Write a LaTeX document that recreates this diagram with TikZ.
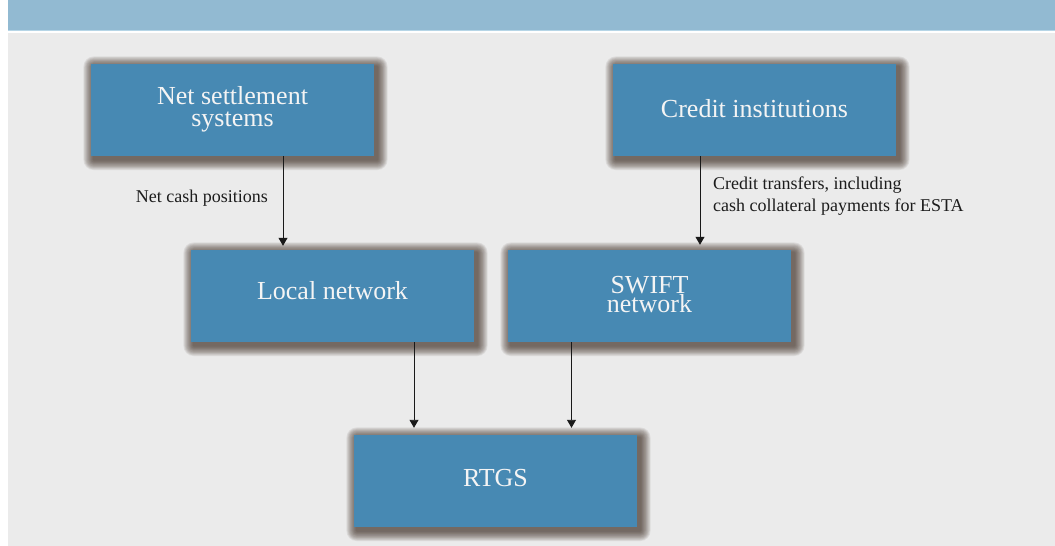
\documentclass[tikz,border=0pt]{standalone}
\usepackage{fontspec}
\setmainfont{Liberation Serif}
\usetikzlibrary{arrows.meta,backgrounds,calc}
\definecolor{bannerc}{HTML}{92BAD2}
\definecolor{bannerline}{HTML}{B6D5E6}
\definecolor{pagec}{HTML}{EBEBEB}
\definecolor{boxc}{HTML}{4789B3}
\definecolor{boxtext}{HTML}{F4F4F4}
\definecolor{shc}{HTML}{3A2A20}
\definecolor{labc}{HTML}{1C1C1C}
\tikzset{
  flowbox/.style={fill=boxc, text=boxtext, minimum width=283bp, minimum height=92bp,
    inner sep=0pt, align=center, font=\fontsize{26bp}{21.7bp}\selectfont},
  arr/.style={draw=black!90, line width=0.9bp, -{Triangle[width=9bp,length=8bp]}},
  lab/.style={text=labc, inner sep=0pt, font=\fontsize{18bp}{22.4bp}\selectfont}
}
\newcommand{\myshadow}[1]{%
  \foreach \k in {1,...,13}{%
    \fill[shc, opacity=0.08, rounded corners=0.8*\k bp]
      ([shift={(-0.8*\k+3,-0.8*\k+3)}]#1.north west) rectangle ([shift={(0.8*\k+3,0.8*\k+3.5)}]#1.south east);
  }%
}
\begin{document}
\begin{tikzpicture}[x=1bp,y=-1bp]
\useasboundingbox (0,0) rectangle (1055,546);
% boxes
\node[flowbox, text height=36bp, text depth=2.6bp] (net) at (232.5,110) {Net settlement\\systems};
\node[flowbox, text height=18bp, text depth=2bp] (credit) at (754.5,110) {Credit institutions};
\node[flowbox, text height=18bp, text depth=11.4bp] (local) at (332.5,296) {Local network};
\node[flowbox, font=\fontsize{26bp}{19.5bp}\selectfont, text height=36bp, text depth=2.6bp] (swift) at (649.5,296) {SWIFT\\network};
\node[flowbox, text height=18bp, text depth=8bp] (rtgs) at (495.5,481) {RTGS};
% background and shadows
\begin{scope}[on background layer]
  \fill[white] (0,0) rectangle (1055,546);
  \fill[bannerc] (7.5,0) rectangle (1055,30);
  \fill[bannerline] (7.5,30) rectangle (1055,31.3);
  \fill[pagec] (8,33) rectangle (1055,546);
  \myshadow{net}
  \myshadow{credit}
  \myshadow{local}
  \myshadow{swift}
  \myshadow{rtgs}
\end{scope}
% connectors
\draw[arr, shorten >=4bp] ([xshift=50.5bp]net.south) -- ([xshift=50.5bp]net.south |- local.north);
\draw[arr, shorten >=5bp] ([xshift=-54.5bp]credit.south) -- ([xshift=-54.5bp]credit.south |- swift.north);
\draw[arr, shorten >=7bp] ([xshift=81.5bp]local.south) -- ([xshift=81.5bp]local.south |- rtgs.north);
\draw[arr, shorten >=7bp] ([xshift=-78bp]swift.south) -- ([xshift=-78bp]swift.south |- rtgs.north);
% connector labels
\node[lab, anchor=base east] (l1) at (268,202.3) {Net cash positions};
\node[lab, anchor=base west, align=left] (l2) at (713,211.7) {Credit transfers, including\\cash collateral payments for ESTA};
\end{tikzpicture}
\end{document}
